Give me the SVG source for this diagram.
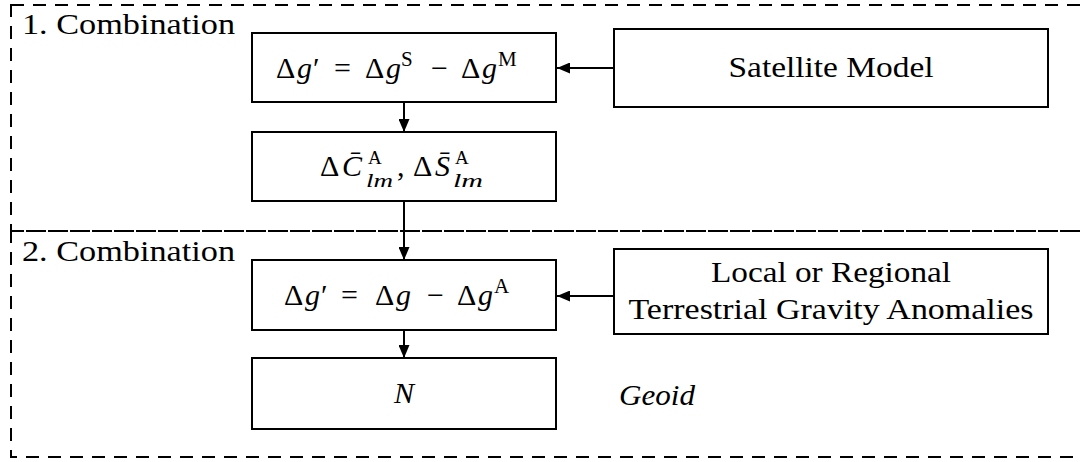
<svg xmlns="http://www.w3.org/2000/svg" width="1081" height="462" viewBox="0 0 1081 462" font-family="'Liberation Serif', 'DejaVu Serif', serif">
<style>
text{font-family:"Liberation Serif","DejaVu Serif",serif;font-size:30px;fill:#000}
.it{font-style:italic}
.sup{font-size:21px}
.ss{font-size:19px}
.box{fill:#fff;stroke:#000;stroke-width:2}
.frame{fill:none;stroke:#000;stroke-width:2;stroke-dasharray:13 9}
.conn{fill:none;stroke:#000;stroke-width:2;marker-end:url(#arr)}
</style>
<defs>
<marker id="arr" markerUnits="userSpaceOnUse" markerWidth="13" markerHeight="11" refX="13" refY="5.5" orient="auto">
<path d="M0,0 L13,5.5 L0,11 z" fill="#000"/>
</marker>
</defs>
<g id="frames">
<rect class="frame" x="11" y="5" width="1100" height="226"/>
<rect class="frame" x="11" y="231" width="1100" height="226"/>
<text x="22" y="34" textLength="213" lengthAdjust="spacingAndGlyphs">1. Combination</text>
<text x="22" y="261" textLength="213" lengthAdjust="spacingAndGlyphs">2. Combination</text>
</g>
<g id="connectors">
<line class="conn" x1="614" y1="68" x2="557" y2="68"/>
<line class="conn" x1="404" y1="102" x2="404" y2="132"/>
<line class="conn" x1="404" y1="201" x2="404" y2="260"/>
<line class="conn" x1="614" y1="296" x2="557" y2="296"/>
<line class="conn" x1="404" y1="330" x2="404" y2="358"/>
</g>
<g id="node-diff1">
<rect class="box" x="252" y="33" width="304" height="69"/>
<text y="78"><tspan x="276">Δ</tspan><tspan class="it" x="297">g</tspan><tspan x="313">′</tspan><tspan x="334">=</tspan><tspan x="365">Δ</tspan><tspan class="it" x="386">g</tspan><tspan class="sup" x="401" y="66">S</tspan><tspan x="431" y="78">−</tspan><tspan x="461">Δ</tspan><tspan class="it" x="482">g</tspan><tspan class="sup" x="498" y="66">M</tspan></text>
</g>
<g id="node-coeff">
<rect class="box" x="252" y="132" width="304" height="69"/>
<text><tspan x="320" y="176">Δ</tspan><tspan class="it" x="342" y="176">C̄</tspan><tspan class="ss" x="368" y="164">A</tspan></text>
<text class="ss it" x="366" y="187" textLength="27" lengthAdjust="spacingAndGlyphs">lm</text>
<text><tspan x="397" y="176">,</tspan><tspan x="413" y="176">Δ</tspan><tspan class="it" x="435" y="176">S̄</tspan><tspan class="ss" x="455" y="164">A</tspan></text>
<text class="ss it" x="453" y="187" textLength="30" lengthAdjust="spacingAndGlyphs">lm</text>
</g>
<g id="node-satellite">
<rect class="box" x="614" y="29" width="434" height="78"/>
<text x="831" y="77" text-anchor="middle" textLength="205" lengthAdjust="spacingAndGlyphs">Satellite Model</text>
</g>
<g id="node-diff2">
<rect class="box" x="252" y="260" width="304" height="70"/>
<text y="305"><tspan x="284">Δ</tspan><tspan class="it" x="305">g</tspan><tspan x="321">′</tspan><tspan x="341">=</tspan><tspan x="375">Δ</tspan><tspan class="it" x="396">g</tspan><tspan x="427">−</tspan><tspan x="457">Δ</tspan><tspan class="it" x="478">g</tspan><tspan class="sup" x="494" y="293">A</tspan></text>
</g>
<g id="node-terrestrial">
<rect class="box" x="614" y="249" width="434" height="85"/>
<text x="831" y="282" text-anchor="middle" textLength="240" lengthAdjust="spacingAndGlyphs">Local or Regional</text>
<text x="831" y="319" text-anchor="middle" textLength="405" lengthAdjust="spacingAndGlyphs">Terrestrial Gravity Anomalies</text>
</g>
<g id="node-geoid">
<rect class="box" x="252" y="358" width="304" height="71"/>
<text class="it" x="404" y="403" text-anchor="middle">N</text>
<text class="it" x="619" y="405" textLength="76" lengthAdjust="spacingAndGlyphs">Geoid</text>
</g>
</svg>
